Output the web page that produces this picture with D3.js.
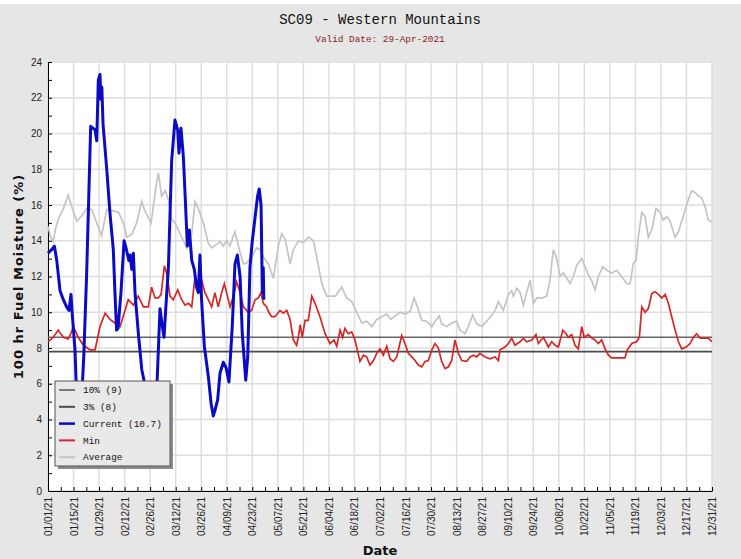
<!DOCTYPE html>
<html lang="en">
<head>
<meta http-equiv="Content-Type" content="text/html; charset=utf-8" />
<title>SC09 - Western Mountains</title>
<style>
   body { margin:0px; padding:0px; background:#fff; }
   .ttl { font-family:'Liberation Mono',monospace; text-anchor:middle; }
   .tick text { font-family:'Liberation Sans',Arial,sans-serif; font-size:10px; fill:#222; }
   .lgd text { font-family:'Liberation Mono',monospace; font-size:9.4px; fill:#111; }
   .axlbl { font-family:'DejaVu Sans',sans-serif; font-weight:bold; font-size:13px; fill:#111; text-anchor:middle; }
</style>
<script src="https://d3js.org/d3.v7.min.js"></script>
</head>
<body>
<svg id="main" width="741" height="559"></svg>
<script>
// x tick labels, every 14 days
var xTickLabels = ['01/01/21','01/15/21','01/29/21','02/12/21','02/26/21','03/12/21','03/26/21','04/09/21','04/23/21',
   '05/07/21','05/21/21','06/04/21','06/18/21','07/02/21','07/16/21','07/30/21','08/13/21','08/27/21','09/10/21',
   '09/24/21','10/08/21','10/22/21','11/05/21','11/19/21','12/03/21','12/17/21','12/31/21'];
var yTicks = [0,2,4,6,8,10,12,14,16,18,20,22,24];

// percentile lines
var pctNames = ['10% (9)','3% (8)'];
var pctValues = [8.6, 7.8];

// series: [day of year (0 = Jan 1), value]
var currentPts = [[0,13.3],[2,13.5],[3.5,13.7],[4.8,12.9],[6.6,11.2],[8.4,10.7],[10.2,10.3],[11.5,10.1],[12.6,11.0],[13.3,9.9],
   [14.8,7.9],[15.4,6.15],[16.8,5.0],[18.9,6.1],[19.6,7.5],[21.2,12.2],[23.4,20.4],[24.6,20.3],[25.8,20.2],[26.7,19.6],
   [27.6,23.0],[28.5,23.3],[29,21.9],[29.5,22.6],[30.2,20.5],[32.2,18.0],[34,15.5],[35.8,13.5],[36.7,11.1],[37.6,9.0],
   [38.4,9.1],[40,11.1],[41.7,14.0],[43,13.5],[44.3,12.9],[45,13.2],[45.9,12.4],[46.8,13.3],[47.7,11.1],[49.5,8.85],
   [51.4,6.8],[52.8,6.1],[55,4.6],[57.5,4.8],[59.8,6.1],[61.4,10.2],[62.7,9.2],[63.6,8.6],[64.5,10.1],[66,12.5],
   [67.8,18.5],[69.6,20.75],[71.1,20.2],[71.8,18.9],[72.9,20.3],[74.2,18.7],[75.1,16.7],[76.4,13.7],[77.5,14.6],[78.8,12.9],
   [80.2,12.4],[81.5,11.4],[82.4,11.1],[83.3,13.2],[84.2,10.7],[85.7,8.1],[87.9,6.4],[89.4,4.9],[90.6,4.2],[91.5,4.5],
   [93,5.1],[94.3,6.6],[96.1,7.2],[97.6,6.9],[99.2,6.1],[101,9.2],[102.5,12.7],[103.8,13.2],[105.3,12.0],[106.5,8.8],
   [108.4,6.2],[109.5,7.5],[110.7,12.5],[112,14.0],[113.5,15.3],[114.9,16.5],[115.8,16.9],[116.8,16.0],[117.5,11.1],[118,12.5],
   [118.3,10.7]];

var minPts = [[0,8.35],[2.9,8.6],[5.6,9.0],[8.4,8.6],[11.1,8.5],[12.5,8.8],[13.9,9.2],[16.6,8.6],[19.4,8.15],[23,7.9],
   [25.8,7.9],[28.5,9.2],[31.3,9.95],[34,9.6],[36.7,9.4],[39.5,9.2],[42.2,10.1],[44,10.7],[46.8,10.4],[49.5,10.9],
   [52.3,10.3],[55,10.3],[56.8,11.4],[58.7,10.8],[60.5,10.8],[62,11.0],[63.8,12.6],[65,12.2],[66.9,10.9],[68.7,10.7],
   [71.1,11.25],[73.3,10.7],[75.1,10.4],[77,10.5],[78.8,10.3],[80.6,12.0],[82.4,11.1],[84.2,11.8],[86,11.1],[87.9,10.7],
   [89.7,10.3],[91.5,11.1],[93.3,10.3],[95.2,11.1],[96.7,11.6],[97.9,11.1],[99.8,10.3],[101.6,10.9],[103.4,11.7],[105.3,11.1],
   [107.1,10.3],[109.8,10.0],[111.6,10.1],[113.5,10.7],[115.3,10.8],[116.8,11.1],[118,10.5],[119.9,10.3],[121,10.0],[122.6,9.75],
   [124.4,9.75],[127.2,10.1],[129,9.95],[130.9,10.1],[132.7,9.6],[134.5,8.45],[136.3,8.15],[137.2,8.6],[138.2,9.3],[139.4,8.6],
   [140.9,9.55],[142.7,9.55],[144.6,10.9],[146.4,10.5],[149.1,9.75],[151.9,8.8],[154.6,8.25],[156.8,8.45],[158.3,8.1],[160.1,9.0],
   [161.5,8.6],[162.8,9.1],[164.6,8.8],[166.5,8.9],[168.3,8.45],[171,7.25],[172.9,7.6],[174.7,7.5],[176.5,7.05],[178.4,7.3],
   [180.2,7.7],[182,7.95],[183.8,7.6],[185.7,8.1],[187.5,7.4],[189.3,7.25],[191.2,7.5],[193.9,8.7],[195.7,8.25],[197.5,7.7],
   [199.4,7.5],[201.2,7.3],[203,7.05],[204.9,6.95],[206.7,7.25],[208.5,7.3],[210.4,7.9],[212.2,8.25],[214,8.0],[215.8,7.25],
   [217.7,6.85],[219.5,6.95],[221.3,7.3],[223.1,8.45],[225,7.7],[226.8,7.3],[229.5,7.25],[231.4,7.5],[233.2,7.6],[235,7.5],
   [236.8,7.7],[239.6,7.5],[242.3,7.4],[245.1,7.5],[246.9,7.3],[247.8,7.9],[250.5,8.05],[252.4,8.25],[254.2,8.55],[256,8.15],
   [258.8,8.35],[260.6,8.55],[262.4,8.35],[265.2,8.45],[267.5,8.75],[268.8,8.25],[271.6,8.6],[274.3,8.05],[276.1,8.35],[278,8.15],
   [279.8,8.05],[282.2,9.0],[284,8.8],[285.3,8.6],[287.1,8.75],[288.9,8.15],[290.7,7.95],[292.6,9.2],[293.9,8.6],[296.2,8.75],
   [298.1,8.55],[299.9,8.45],[301.7,8.25],[303.5,8.45],[305.4,7.95],[307.2,7.6],[309,7.45],[312.7,7.45],[316.3,7.45],[317.6,7.9],
   [320,8.25],[322.7,8.35],[324.2,8.6],[325.5,10.3],[327.3,10.0],[329.1,10.2],[331,11.05],[332.8,11.15],[334.6,11.0],[336.5,10.8],
   [338.3,11.0],[340.1,10.5],[341.9,9.75],[343.8,9.0],[345.6,8.35],[347.4,7.95],[349.8,8.05],[352,8.25],[353.8,8.6],[355.6,8.8],
   [357.5,8.55],[360.2,8.55],[362,8.55],[364,8.35]];

var avgPts = [[0,14.8],[1.5,14.2],[2.9,13.95],[4,14.6],[5.6,15.2],[8.4,15.8],[11.1,16.55],[13,15.9],[15.7,15.1],[18.5,15.4],
   [21.2,15.8],[24,15.75],[26.7,15.0],[29.4,14.3],[32.2,15.75],[34.9,15.7],[38.6,15.6],[41.3,15.0],[43.2,14.2],[46.2,14.4],
   [48.6,15.0],[51.4,16.2],[53,15.7],[56.5,15.0],[59.6,17.3],[60.5,17.8],[62.3,16.5],[64.2,16.8],[66,16.3],[67.8,15.2],
   [69.6,15.0],[71.5,14.6],[74.2,14.0],[76,13.6],[78.8,14.4],[80.6,16.2],[82.4,15.8],[85.2,15.0],[87.9,13.85],[89.7,13.6],
   [92.4,13.8],[94.3,13.95],[96.1,13.7],[97.9,14.0],[99.7,13.7],[102.5,14.5],[104.4,13.7],[107.1,12.7],[108.9,12.75],[111.7,13.1],
   [114.4,13.6],[116.3,13.5],[118,13.1],[120.8,12.7],[123.5,11.9],[126.3,13.7],[128.1,14.4],[130,14.1],[132.7,12.7],[134.5,13.5],
   [137.3,14.0],[140,13.9],[142.7,14.2],[145.5,14.0],[147.3,13.1],[150.1,11.6],[152.8,10.9],[155.6,10.9],[157.5,10.9],[159.2,11.15],
   [161,11.4],[163.7,10.8],[166.5,10.6],[169.2,10.0],[172,9.4],[174.7,9.5],[177.5,9.2],[180.2,9.6],[183,9.75],[185.7,9.9],
   [187.9,9.6],[190.3,9.8],[193,10.0],[195.7,9.9],[198.5,10.05],[200.7,10.8],[202.5,10.3],[204.9,9.55],[207.6,9.5],[210.4,9.2],
   [212.2,9.5],[214.5,9.8],[215.8,9.35],[218.6,9.2],[221.4,9.4],[224,9.5],[225.9,9.0],[228.6,8.8],[230.4,9.2],[232.8,9.85],
   [235,9.35],[237.8,9.2],[240.5,9.5],[243.3,9.85],[245.1,10.1],[246.9,10.6],[249.6,10.1],[252.4,11.0],[254.2,11.2],[255.1,10.9],
   [257,11.35],[258.8,11.1],[260.6,10.4],[262.4,11.1],[264.3,11.8],[266.1,10.5],[267.9,10.8],[270.7,10.8],[273.4,10.9],[275.2,11.8],
   [277,13.5],[278.9,13.0],[280.7,12.0],[282.5,12.2],[284.4,11.9],[286.2,11.6],[288,12.0],[289.9,12.65],[292.6,13.0],[294.4,12.55],
   [296.2,12.1],[298.1,11.75],[299.9,11.25],[301.7,12.0],[304.1,12.55],[306.3,12.35],[309,12.2],[311.8,12.35],[314.5,12.0],[317.3,11.6],
   [319.1,11.6],[320.9,12.75],[322.4,12.9],[323.6,14.2],[325.5,15.6],[327.3,15.35],[329.1,14.2],[331,14.6],[333.3,15.8],[335.5,15.6],
   [337.3,15.15],[339.2,15.35],[341,15.1],[343.8,14.2],[345.6,14.5],[347.4,15.1],[349.2,15.7],[351,16.3],[352.9,16.8],[354.7,16.7],
   [356.5,16.5],[358.4,16.4],[360.2,15.9],[362,15.15],[364,15.05]];

var legendNames = ['10% (9)','3% (8)','Current (10.7)','Min','Average'];
var legendColors = ['#7a7a7a','#4a4a4a','#0b0bc4','#d42727','#c4c4c4'];

var W = 741, H = 559;
var plot = {left:48, right:712, top:62, bottom:491};
var svg = d3.select('#main');

var parseTick = d3.utcParse('%m/%d/%y');
var t0 = Date.UTC(2021,0,1);
function fday(d) { return new Date(t0 + d*864e5); };

var x = d3.scaleUtc()
   .domain([parseTick(xTickLabels[0]), parseTick(xTickLabels[xTickLabels.length-1])])
   .range([plot.left, plot.right]);
var y = d3.scaleLinear().domain([0,24]).range([plot.bottom, plot.top]);

//background
svg.append('rect').attr('x',0).attr('y',4).attr('width',W).attr('height',H-4).attr('fill','#e6e6e6');
svg.append('rect').attr('x',plot.left).attr('y',plot.top)
   .attr('width',plot.right-plot.left).attr('height',plot.bottom-plot.top).attr('fill','#fff');

//grid
var majorDates = xTickLabels.map(parseTick);
svg.append('g').selectAll('line').data(majorDates).enter().append('line')
   .attr('x1',d=>x(d)).attr('x2',d=>x(d)).attr('y1',plot.top).attr('y2',plot.bottom)
   .attr('stroke','#dedede').attr('stroke-width',1.5);
svg.append('g').selectAll('line').data(yTicks).enter().append('line')
   .attr('x1',plot.left).attr('x2',plot.right).attr('y1',d=>y(d)).attr('y2',d=>y(d))
   .attr('stroke','#dedede').attr('stroke-width',1.5);

//axes: minor tick every 7 days from Jan 1, label every 14
var weekDates = d3.range(0,365,7).map(fday);
var fmt = d3.utcFormat('%m/%d/%y');
var xAxis = d3.axisBottom(x).tickValues(weekDates).tickSize(-4).tickSizeOuter(0)
   .tickFormat(d => xTickLabels.includes(fmt(d)) ? fmt(d) : '');
var gx = svg.append('g').attr('transform','translate(0,'+plot.bottom+')').call(xAxis);
gx.selectAll('.tick text')
   .attr('transform','translate(0,6) rotate(-90)')
   .attr('text-anchor','end').attr('x',0).attr('y',0).attr('dy','0.35em');

var yAxis = d3.axisLeft(y).tickValues(d3.range(0,25)).tickSize(-4).tickSizeOuter(-4).tickPadding(6)
   .tickFormat(d => yTicks.includes(d) ? d : '');
svg.append('g').attr('transform','translate('+plot.left+',0)').call(yAxis);
svg.selectAll('.domain').attr('stroke','#000');
svg.selectAll('.tick line').attr('stroke','#000');

//percentile lines
svg.append('g').selectAll('line').data(pctValues).enter().append('line')
   .attr('x1',plot.left).attr('x2',plot.right).attr('y1',d=>y(d)).attr('y2',d=>y(d))
   .attr('stroke',(d,i)=>i==0?'#666':'#4a4a4a').attr('stroke-width',1.6);

//series
var line = d3.line().x(d=>x(fday(d[0]))).y(d=>y(d[1]));
svg.append('path').datum(avgPts).attr('d',line).attr('fill','none').attr('stroke',legendColors[4]).attr('stroke-width',1.7);
svg.append('path').datum(minPts).attr('d',line).attr('fill','none').attr('stroke',legendColors[3]).attr('stroke-width',1.7);
svg.append('path').datum(currentPts).attr('d',line).attr('fill','none').attr('stroke',legendColors[2])
   .attr('stroke-width',3).attr('stroke-linejoin','round');

//legend
var lg = svg.append('g').attr('class','lgd');
lg.append('rect').attr('x',58).attr('y',384).attr('width',115).attr('height',85).attr('fill','#8a8a8a');
lg.append('rect').attr('x',55).attr('y',381).attr('width',115).attr('height',85)
   .attr('fill','#e9e9e9').attr('stroke','#555').attr('stroke-width',1);
var rows = lg.selectAll('g.row').data(legendNames).enter().append('g')
   .attr('transform',(d,i)=>'translate(0,'+(390+i*16.8)+')');
rows.append('line').attr('x1',59).attr('x2',75).attr('y1',0).attr('y2',0)
   .attr('stroke',(d,i)=>legendColors[i]).attr('stroke-width',(d,i)=>i==2?2.5:2);
rows.append('text').attr('x',83).attr('dy','0.35em').text(d=>d);

//titles
svg.append('text').attr('class','ttl').attr('x',380).attr('y',24).attr('font-size','14px').attr('fill','#111')
   .text('SC09 - Western Mountains');
svg.append('text').attr('class','ttl').attr('x',380).attr('y',42).attr('font-size','9.4px').attr('fill','#8b1c1c')
   .text('Valid Date: 29-Apr-2021');
svg.append('text').attr('class','axlbl').attr('transform','translate(23,'+((plot.top+plot.bottom)/2)+') rotate(-90)')
   .attr('letter-spacing','1px').text('100 hr Fuel Moisture (%)');
svg.append('text').attr('class','axlbl').attr('x',380).attr('y',555).text('Date');
</script>
</body>
</html>
